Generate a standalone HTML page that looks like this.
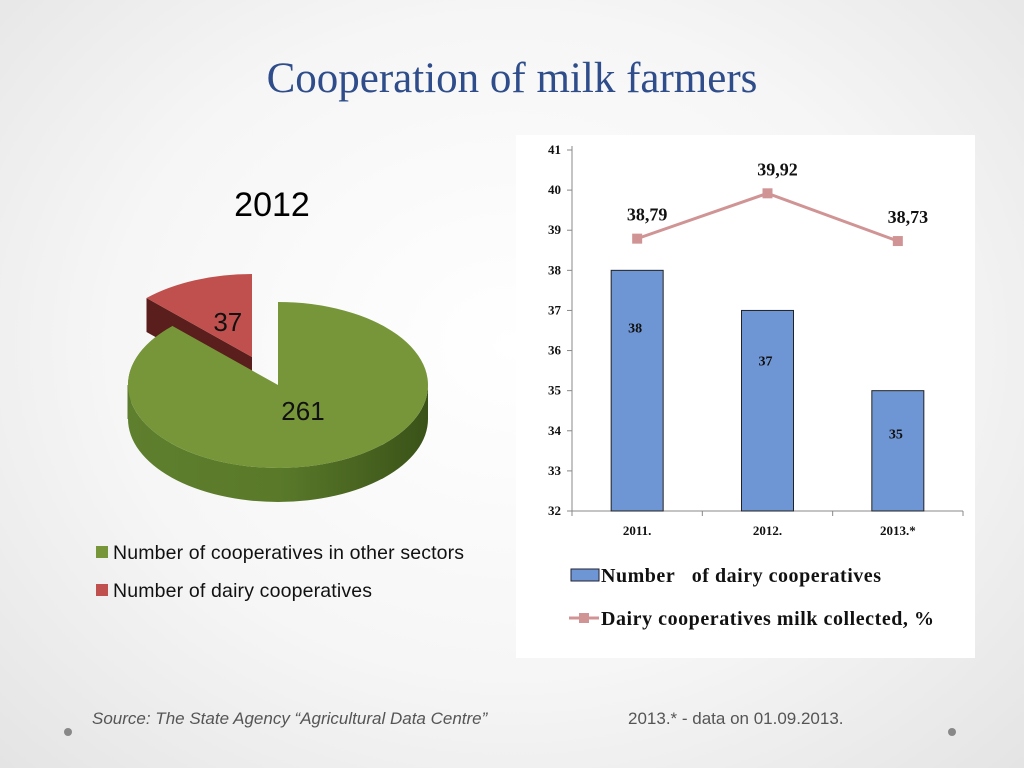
<!DOCTYPE html>
<html><head><meta charset="utf-8"><style>
html,body{margin:0;padding:0;width:1024px;height:768px;overflow:hidden}
body{background:radial-gradient(ellipse at 50% 45%,#ffffff 0%,#f6f6f6 55%,#e4e4e4 100%);font-family:"Liberation Sans",sans-serif}
</style></head><body>
<svg id="s" width="1024" height="768" xmlns="http://www.w3.org/2000/svg">
<defs>
<linearGradient id="gside" x1="0" x2="1" y1="0" y2="0"><stop offset="0" stop-color="#5e7f2e"/><stop offset="0.5" stop-color="#5a7a2a"/><stop offset="1" stop-color="#3a5218"/></linearGradient>
</defs>
<text x="512" y="92" text-anchor="middle" font-family="Liberation Serif,serif" font-size="43" fill="#2e4d8a">Cooperation of milk farmers</text>
<text x="272" y="216" text-anchor="middle" font-size="34" fill="#000">2012</text>
<g id="pie"></g>
<g>
<rect x="96" y="546" width="12" height="12" fill="#77963a"/>
<text x="113" y="559" font-size="19.5" fill="#111" textLength="351">Number of cooperatives in other sectors</text>
<rect x="96" y="584" width="12" height="12" fill="#c0504d"/>
<text x="113" y="597" font-size="19.5" fill="#111" textLength="259">Number of dairy cooperatives</text>
</g>
<rect x="516" y="135" width="459" height="523" fill="#fff"/>
<g id="bar"></g>
<g>
<rect x="571" y="569" width="28" height="12" fill="#6f96d4" stroke="#223" stroke-width="1"/>
<text x="601" y="582" font-family="Liberation Serif,serif" font-weight="bold" font-size="20" fill="#111" textLength="280">Number&#160;&#160; of dairy cooperatives</text>
<line x1="569" y1="618" x2="599" y2="618" stroke="#d09494" stroke-width="3"/>
<rect x="579" y="613" width="10" height="10" fill="#d09494"/>
<text x="601" y="625" font-family="Liberation Serif,serif" font-weight="bold" font-size="20" fill="#111" textLength="333">Dairy cooperatives milk collected, %</text>
</g>
<text x="92" y="724" font-style="italic" font-size="17" fill="#555">Source: The State Agency “Agricultural Data Centre”</text>
<text x="628" y="724" font-size="17" fill="#555">2013.* - data on 01.09.2013.</text>
<circle cx="68" cy="732" r="4" fill="#888"/>
<circle cx="952" cy="732" r="4" fill="#888"/>
</svg>
<script>
const NS="http://www.w3.org/2000/svg";
const pieLabels=["Number of cooperatives in other sectors","Number of dairy cooperatives"];
const pieValues=[261,37];
const categories=["2011.","2012.","2013.*"];
const barValues=[38,37,35];
const lineValues=[38.79,39.92,38.73];
const lineLabels=["38,79","39,92","38,73"];
const yTicks=[32,33,34,35,36,37,38,39,40,41];

function mk(p,tag,attrs){const e=document.createElementNS(NS,tag);for(const k in attrs)e.setAttribute(k,attrs[k]);p.appendChild(e);return e;}

const pie=document.getElementById('pie');
const cx=278,cy=385,rx=150,ry=83,depth=34;
const total=pieValues.reduce((a,b)=>a+b,0);
function pt(a,ox,oy,dy){return [cx+ox+rx*Math.sin(a),cy+oy+dy-ry*Math.cos(a)];}
let a0=0;
const angs=pieValues.map(v=>{const s=a0;a0+=v/total*2*Math.PI;return [s,a0];});
{
 const [s,e]=angs[1];const ox=-26,oy=-28;
 const g=mk(pie,'g',{});
 
 
 const c=[cx+ox,cy+oy];const p1=pt(s,ox,oy,0);
 mk(g,'path',{d:`M${c[0]},${c[1]} L${p1[0]},${p1[1]} L${p1[0]},${p1[1]+depth} L${c[0]},${c[1]+depth} Z`,fill:'#5a1e1c'});
 const p2=pt(e,ox,oy,0);
 mk(g,'path',{d:`M${c[0]},${c[1]} L${p1[0]},${p1[1]} A${rx},${ry} 0 0 1 ${p2[0]},${p2[1]} Z`,fill:'#c0504d'});
 const m=(s+e)/2;
 const t=mk(g,'text',{x:cx+ox+rx*0.6*Math.sin(m)+10,y:cy+oy-ry*0.6*Math.cos(m)+20,'text-anchor':'middle','font-size':'26',fill:'#111'});
 t.textContent=String(pieValues[1]);
}
{
 const [s,e]=angs[0];
 const g=mk(pie,'g',{});
 
 
 const pS=pt(s,0,0,0),pE=pt(e,0,0,0);
 const L=pt(Math.max(s,Math.PI/2),0,0,0),R=pt(Math.min(e,3*Math.PI/2),0,0,0);
 mk(g,'path',{d:`M${L[0]},${L[1]} A${rx},${ry} 0 0 1 ${R[0]},${R[1]} L${R[0]},${R[1]+depth} A${rx},${ry} 0 0 0 ${L[0]},${L[1]+depth} Z`,fill:'url(#gside)'});
 const pe2=pt(e,0,0,0);
 mk(g,'path',{d:`M${R[0]},${R[1]} A${rx},${ry} 0 0 1 ${pe2[0]},${pe2[1]} L${pe2[0]},${pe2[1]+depth} A${rx},${ry} 0 0 0 ${R[0]},${R[1]+depth} Z`,fill:'#5a7c2c'});
 mk(g,'path',{d:`M${R[0]},${R[1]} L${R[0]},${R[1]+depth}`,stroke:'#5a7c2c'});
 const large=(e-s)>Math.PI?1:0;
 mk(g,'path',{d:`M${cx},${cy} L${pS[0]},${pS[1]} A${rx},${ry} 0 ${large} 1 ${pE[0]},${pE[1]} Z`,fill:'#77963a'});
 const t=mk(g,'text',{x:303,y:420,'text-anchor':'middle','font-size':'26',fill:'#111'});
 t.textContent=String(pieValues[0]);
}

const bar=document.getElementById('bar');
const y0=511,y1=150,vmin=32,vmax=41,xL=572,xR=963;
const Y=v=>y0-(v-vmin)/(vmax-vmin)*(y0-y1);
const bandW=(xR-xL)/categories.length;
const X=i=>xL+bandW*(i+0.5);
mk(bar,'line',{x1:xL,y1:y1-4,x2:xL,y2:y0,stroke:'#888'});
mk(bar,'line',{x1:xL-4,y1:y0,x2:xR,y2:y0,stroke:'#888'});
yTicks.forEach(v=>{
 mk(bar,'line',{x1:xL-5,y1:Y(v),x2:xL,y2:Y(v),stroke:'#888'});
 const t=mk(bar,'text',{x:xL-11,y:Y(v)+4,'text-anchor':'end','font-family':'Liberation Serif,serif','font-weight':'bold','font-size':'13',fill:'#111'});
 
 
 t.textContent=v;
});
for(let i=0;i<=categories.length;i++){mk(bar,'line',{x1:xL+bandW*i,y1:y0,x2:xL+bandW*i,y2:y0+5,stroke:'#888'});}
categories.forEach((c,i)=>{
 const t=mk(bar,'text',{x:X(i),y:y0+24,'text-anchor':'middle','font-family':'Liberation Serif,serif','font-weight':'bold','font-size':'13',fill:'#111'});
 
 
 t.textContent=c;
});
const bw=52;
barValues.forEach((v,i)=>{
 const r=mk(bar,'rect',{x:X(i)-bw/2,y:Y(v),width:bw,height:y0-Y(v),fill:'#6f96d4',stroke:'#222','stroke-width':'1'});
 
 
 const t=mk(bar,'text',{x:X(i)-2,y:Y(v)+62-i*7,'text-anchor':'middle','font-family':'Liberation Serif,serif','font-weight':'bold','font-size':'14',fill:'#111'});
 
 
 t.textContent=v;
});
const pts=lineValues.map((v,i)=>[X(i),Y(v)]);
const pl=mk(bar,'polyline',{points:pts.map(p=>p.join(',')).join(' '),fill:'none',stroke:'#d09494','stroke-width':'3'});


pts.forEach((p,i)=>{
 const m=mk(bar,'rect',{x:p[0]-5,y:p[1]-5,width:10,height:10,fill:'#d09494'});
 
 
 const t=mk(bar,'text',{x:p[0]+10,y:p[1]-18,'text-anchor':'middle','font-family':'Liberation Serif,serif','font-weight':'bold','font-size':'18',fill:'#111'});
 
 
 t.textContent=lineLabels[i];
});
</script>
</body></html>
